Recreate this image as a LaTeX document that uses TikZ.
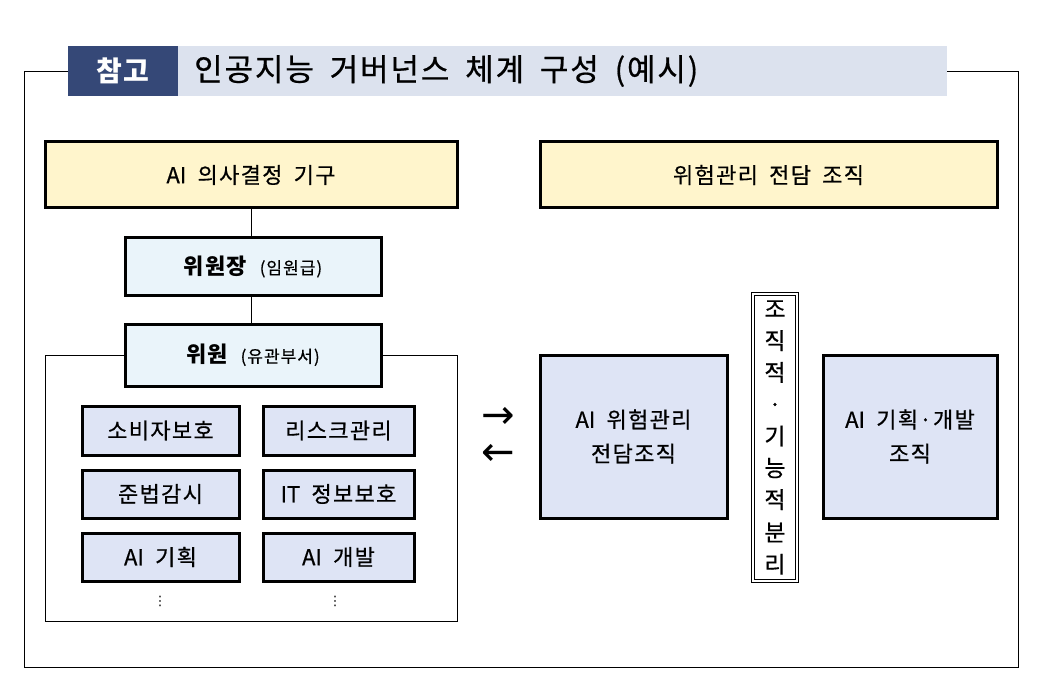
\documentclass[tikz,border=0pt]{standalone}
\usepackage{fontspec}
\setmainfont{Noto Sans CJK KR}[LetterSpace=6, WordSpace=1.8, UprightFeatures={FakeBold=0.6}]
\newfontfamily\latfont{Noto Sans CJK KR}[UprightFeatures={FakeBold=0.6}]
\newfontfamily\dejavu{DejaVu Sans}
\newcommand{\lat}[1]{{\latfont #1}}
\usetikzlibrary{positioning}
\definecolor{navy}{HTML}{354877}
\definecolor{titlebg}{HTML}{DCE2EE}
\definecolor{yel}{HTML}{FFF5CC}
\definecolor{lblue}{HTML}{EAF4FA}
\definecolor{lav}{HTML}{DEE4F5}
\tikzset{
  thickbox/.style={draw=black, line width=3pt, inner sep=0pt, align=center},
  headbox/.style={thickbox, fill=yel, font=\fontsize{22}{26}\selectfont},
  chairbox/.style={thickbox, fill=lblue, font=\fontsize{22}{26}\selectfont},
  unitbox/.style={thickbox, fill=lav, font=\fontsize{22}{26}\selectfont},
  bigbox/.style={thickbox, fill=lav, font=\fontsize{22}{34}\selectfont},
  thin/.style={draw=black, line width=1pt},
  arrowsym/.style={inner sep=0pt, font=\dejavu\fontsize{40}{42}\selectfont},
}
\newcommand{\paren}[1]{{\fontsize{17}{19}\selectfont\mdseries #1}}
\begin{document}
\begin{tikzpicture}[x=1pt,y=-1pt]
\useasboundingbox (0,0) rectangle (1040,684);
% title
\node[fill=navy, minimum width=110pt, minimum height=50pt, inner sep=0pt, text=white, font=\fontsize{28}{30}\selectfont\bfseries] (tag) at (123,71) {참고};
\node[fill=titlebg, minimum width=769pt, minimum height=50pt, inner sep=0pt, anchor=west] (title) at (178,71) {};
\node[anchor=west, inner sep=0pt, font=\fontsize{31}{33}\selectfont] (titletext) at (194,71) {인공지능 거버넌스 체계 구성 (예시)};
% outer frame
\coordinate (oL) at (24,72);
\coordinate (oR) at (1018,72);
\draw[thin] (tag.west |- oL) -- (oL) -- (24,667) -- (1018,667) -- (oR) -- (title.east |- oR);
% left column
\node[headbox, minimum width=412pt, minimum height=66pt] (dec) at (251,175) {\lat{AI} 의사결정 기구};
\node[chairbox, minimum width=256pt, minimum height=57pt] (chair) at (253,266.5) {\textbf{위원장} \paren{(임원급)}};
\node[chairbox, minimum width=256pt, minimum height=62pt] (memb) at (253,355) {\textbf{위원} \paren{(유관부서)}};
\draw[thin] (dec.south -| 251,0) -- (chair.north -| 251,0);
\draw[thin] (chair.south -| 251,0) -- (memb.north -| 251,0);
\coordinate (fL) at (45,355);
\coordinate (fR) at (457,355);
\draw[thin] (memb.west) -- (fL) -- (45,621) -- (457,621) -- (fR) -- (memb.east);
% unit boxes
\node[unitbox, minimum width=157pt, minimum height=49pt] (u1) at (160.5,430.5) {소비자보호};
\node[unitbox, minimum width=151pt, minimum height=49pt] (u2) at (338.5,430.5) {리스크관리};
\node[unitbox, minimum width=157pt, minimum height=48pt] (u3) at (160.5,494) {준법감시};
\node[unitbox, minimum width=151pt, minimum height=48pt] (u4) at (338.5,494) {\lat{IT} 정보보호};
\node[unitbox, minimum width=157pt, minimum height=48pt] (u5) at (160.5,557) {\lat{AI} 기획};
\node[unitbox, minimum width=151pt, minimum height=48pt] (u6) at (338.5,557) {\lat{AI} 개발};
\node[font=\dejavu\fontsize{13}{14}\selectfont, inner sep=0pt] (d1) at (160,601) {⋮};
\node[font=\dejavu\fontsize{13}{14}\selectfont, inner sep=0pt] (d2) at (335,601) {⋮};
% arrows
\node[arrowsym] (ar) at (498,418) {→};
\node[arrowsym] (al) at (498,455) {←};
% right column
\node[headbox, minimum width=457pt, minimum height=66pt] (risk) at (768.5,175) {위험관리 전담 조직};
\node[bigbox, minimum width=187pt, minimum height=163pt] (rm) at (633.5,436.5) {\lat{AI} 위험관리\\전담조직};
\node[bigbox, minimum width=174pt, minimum height=163pt] (pd) at (910,436.5) {\lat{AI} 기획·개발\\조직};
\node[draw, double, double distance=2pt, line width=0.8pt, minimum width=44pt, minimum height=287pt, inner sep=0pt, align=center, font=\fontsize{23}{31.8}\selectfont] (sep) at (775,437.5) {조\\직\\적\\·\\기\\능\\적\\[1pt]분\\리};
\end{tikzpicture}
\end{document}
